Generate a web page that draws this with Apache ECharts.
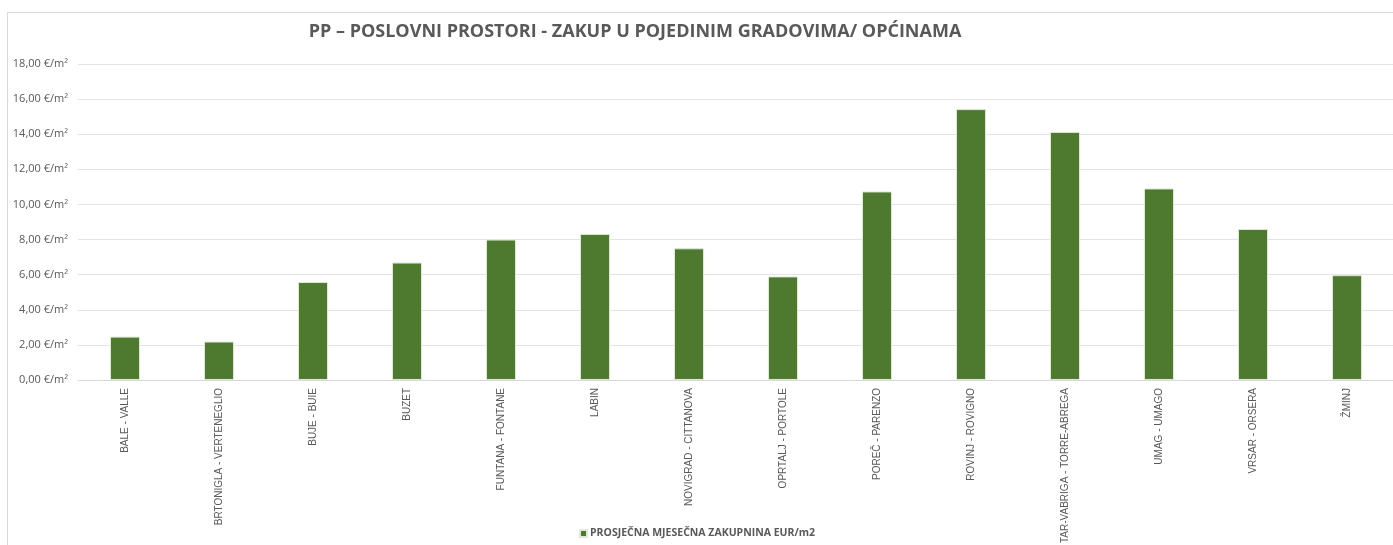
<!DOCTYPE html>
<html>
<head>
<meta charset="utf-8">
<script src="https://cdn.jsdelivr.net/npm/echarts@6/dist/echarts.min.js"></script>
<style>
    html, body { margin: 0; padding: 0; background: #fff; }
    #chart {
        position: absolute; left: 7px; top: 12px;
        width: 1386px; height: 533px;
        border-left: 1px solid #d9d9d9; border-top: 1px solid #d9d9d9;
    }
</style>
</head>
<body>
<div id="chart"></div>
<script>
let cities = [
    "BALE - VALLE", "BRTONIGLA - VERTENEGLIO", "BUJE - BUIE", "BUZET",
    "FUNTANA - FONTANE", "LABIN", "NOVIGRAD - CITTANOVA", "OPRTALJ - PORTOLE",
    "POREČ - PARENZO", "ROVINJ - ROVIGNO", "TAR-VABRIGA - TORRE-ABREGA",
    "UMAG - UMAGO", "VRSAR - ORSERA", "ŽMINJ"
];
let rent = [2.47, 2.19, 5.58, 6.69, 8.0, 8.32, 7.5, 5.9, 10.74, 15.43, 14.13, 10.91, 8.6, 5.97];

let seriesName = "PROSJEČNA MJESEČNA ZAKUPNINA EUR/m2";
let chartTitle = "PP – POSLOVNI PROSTORI - ZAKUP U POJEDINIM GRADOVIMA/ OPĆINAMA";

let chart = echarts.init(document.getElementById("chart"));

function euro(v) {
    return v.toFixed(2).replace(".", ",") + " €/m²";
}

chart.setOption({
    animation: false,
    title: {
        text: chartTitle,
        left: 622,
        textAlign: "center",
        top: 5,
        textStyle: {
            fontFamily: "Open Sans, sans-serif",
            fontSize: 18,
            fontWeight: "bold",
            color: "#595959"
        }
    },
    legend: {
        data: [seriesName],
        left: 566,
        top: 510,
        itemWidth: 7,
        itemHeight: 7,
        itemGap: 4,
        icon: "rect",
        textStyle: {
            fontFamily: "Open Sans, sans-serif",
            fontSize: 10.5,
            fontWeight: "bold",
            color: "#595959",
            padding: [0, 0, 0, -2]
        }
    },
    grid: { left: 70, top: 51, bottom: 166, right: -12, containLabel: false },
    xAxis: {
        type: "category",
        data: cities,
        axisTick: { show: false },
        axisLine: { lineStyle: { color: "#d9d9d9" } },
        axisLabel: {
            rotate: 90,
            interval: 0,
            margin: 8,
            fontFamily: "Liberation Sans, Arial, sans-serif",
            fontSize: 10,
            color: "#595959"
        }
    },
    yAxis: {
        type: "value",
        min: 0,
        max: 18,
        interval: 2,
        axisLine: { show: false },
        axisTick: { show: false },
        splitLine: { lineStyle: { color: "#e3e3e3" } },
        axisLabel: {
            margin: 10,
            formatter: euro,
            fontFamily: "Open Sans, sans-serif",
            fontSize: 11,
            color: "#595959"
        }
    },
    series: [{
        name: seriesName,
        type: "bar",
        data: rent,
        barWidth: 30,
        itemStyle: { color: "#4e7a30", borderColor: "#dfe9d6", borderWidth: 1 }
    }]
});
</script>
</body>
</html>
